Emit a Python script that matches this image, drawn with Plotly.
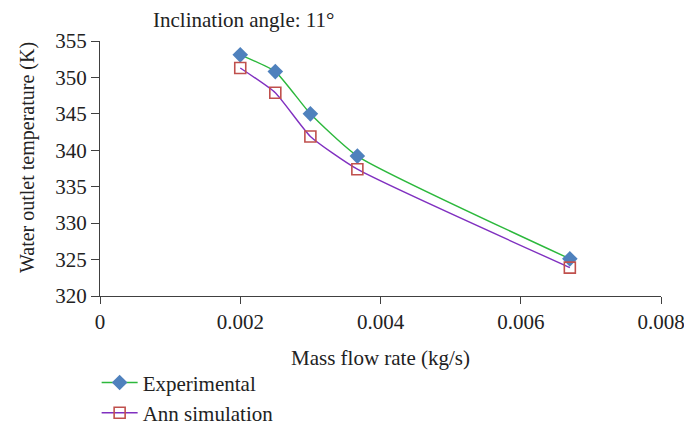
import plotly.graph_objects as go

mass_flow = [0.002, 0.0025, 0.003, 0.00367, 0.0067]
experimental = [353.1, 350.8, 345.0, 339.2, 325.1]
ann_simulation = [351.3, 347.9, 341.9, 337.4, 323.9]

x_ticks = [0, 0.002, 0.004, 0.006, 0.008]
x_tick_labels = ["0", "0.002", "0.004", "0.006", "0.008"]
y_ticks = [320, 325, 330, 335, 340, 345, 350, 355]

FONT = "Liberation Serif"
AXIS_COLOR = "#404040"
TEXT_COLOR = "#222222"

W, H = 684, 425

fig = go.Figure()
fig.add_trace(go.Scatter(
    x=mass_flow, y=experimental, name="Experimental", mode="lines+markers",
    line=dict(color="#2cb83c", width=1.4, shape="spline", smoothing=0.5),
    marker=dict(symbol="diamond", size=12, color="#4f81bd", line=dict(width=0)),
))
fig.add_trace(go.Scatter(
    x=mass_flow, y=ann_simulation, name="Ann simulation", mode="lines+markers",
    line=dict(color="#8030c0", width=1.4, shape="spline", smoothing=0.5),
    marker=dict(symbol="square-open", size=11, color="#c0504d", line=dict(width=1.6, color="#c0504d")),
))

fig.update_layout(
    width=W, height=H,
    margin=dict(l=100, r=23, t=41, b=129, autoexpand=False),
    paper_bgcolor="white", plot_bgcolor="white",
    font=dict(family=FONT, size=21, color=TEXT_COLOR),
    title=dict(text="Inclination angle: 11°", x=153/W, xanchor="left", xref="container",
               y=1-20/H, yanchor="middle", yref="container",
               font=dict(family=FONT, size=21, color=TEXT_COLOR)),
    showlegend=True,
    legend=dict(x=-0.006, xanchor="left", y=-0.26, yanchor="top", orientation="v",
                itemwidth=36, font=dict(family=FONT, size=21, color=TEXT_COLOR),
                bgcolor="rgba(0,0,0,0)"),
    xaxis=dict(
        range=[0, 0.008], tickvals=x_ticks, ticktext=x_tick_labels,
        showgrid=False, zeroline=False, showline=True, linecolor=AXIS_COLOR, linewidth=1.3,
        ticks="outside", ticklen=7, tickcolor=AXIS_COLOR, tickwidth=1.3,
        title=dict(text="Mass flow rate (kg/s)", standoff=16, font=dict(size=21)),
        tickfont=dict(size=21), automargin=False, ticklabeloverflow="allow",
    ),
    yaxis=dict(
        range=[320, 355], tickvals=y_ticks,
        showgrid=False, zeroline=False, showline=True, linecolor=AXIS_COLOR, linewidth=1.3,
        ticks="outside", ticklen=8, tickcolor=AXIS_COLOR, tickwidth=1.3,
        tickfont=dict(size=21), automargin=False,
    ),
    annotations=[dict(
        text="Water outlet temperature (K)", textangle=-90,
        xref="paper", yref="paper", x=(27-100)/561, y=(296-158)/255,
        xanchor="center", yanchor="middle", showarrow=False,
        font=dict(family=FONT, size=20, color=TEXT_COLOR),
    )],
)

fig.write_html(
    "out.html",
    config={"displayModeBar": False},
    post_script="document.body.style.margin='0';document.body.style.overflow='hidden';",
)
